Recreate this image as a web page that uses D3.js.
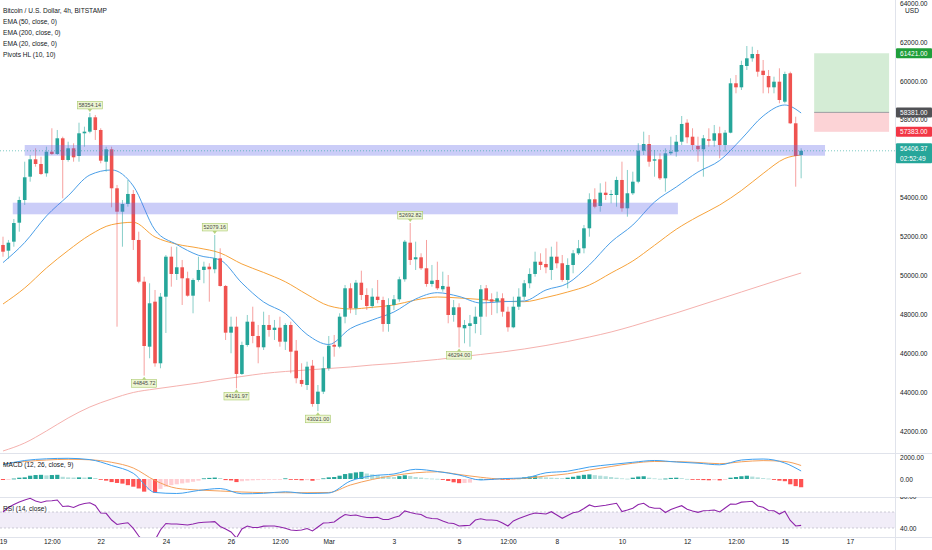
<!DOCTYPE html>
<html><head><meta charset="utf-8">
<script src="https://cdn.jsdelivr.net/npm/d3@7/dist/d3.min.js"></script>
<style>
html,body{margin:0;padding:0;background:#fff;overflow:hidden}
svg{display:block;font-family:"Liberation Sans",Arial,sans-serif}
</style></head><body>
<svg id="c" width="932" height="550"></svg>
<script>
// ---------- DATA ----------
const opens = [51564,51271,51734,52710,53877,55075,55969,55728,55249,56360,56242,57049,55934,56535,56139,57306,57390,58128,57476,55846,
56483,54479,53275,53671,54186,51821,49677,46335,48649,45481,48906,50962,50073,50417,49851,48957,49765,50279,50448,50314,
50879,49456,47055,47363,44932,46423,47620,46885,46304,47451,47194,47312,46592,47451,46129,44624,44365,45358,43390,44022,
45225,46430,46335,47877,49338,48309,49625,48993,48427,48906,48736,47502,48479,48772,49800,51682,50828,50931,50366,49559,
49765,49286,49420,47965,48360,47281,47399,47502,47877,49338,48772,48649,48823,48134,47332,48391,48906,49595,50073,50705,
50587,50279,50962,50623,49765,50536,51136,51394,52422,53913,53568,54253,54134,54134,54906,53450,54222,54818,56412,56756,
55898,55969,54993,56278,56360,56874,57851,57131,56653,56483,56998,56926,57306,56704,57337,59877,59671,60766,61162,61383,
60524,60252,59671,59959,58931,60391,57820,56191];
const highs = [51990,51821,52900,54047,55846,56191,56535,56103,56617,57564,57476,57131,56874,56792,57851,57646,58354.14,58247,57564,56617,
56617,54649,53877,54906,54392,52247,49934,49595,49250,49096,51049,51476,51476,50793,50191,49851,50962,50705,50623,52079.16,
51394,49507,47877,47877,46592,47965,48391,47451,48134,47965,47708,47877,47538,47620,46680,45481,45564,45652,44365,45821,
46885,46937,48052,49507,49595,49765,50243,49338,49338,49765,48906,48823,48993,49934,51821,52692.82,51734,51136,51821,50536,
50705,50191,50021,48736,48566,47708,47965,48391,49507,49507,49080,49163,49080,48391,48906,49338,49765,50366,51219,51136,
51394,51476,51734,51049,50879,51307,51821,52592,54222,54479,54736,54818,54392,55075,55846,55420,55332,56792,57390,57219,
56448,56278,56535,57131,57219,58195,58026,57564,57131,57219,57564,57733,57646,57476,60134,60303,61038,61794,61758,61589,
61075,60561,60216,60648,60473,60473,58159,56535];
const lows = [50962,50859,51476,52247,53620,54818,55589,55162,55075,56191,56191,53964,55846,55846,55846,56617,57306,56962,55764,55332,
53501,47363,51476,53532,51307,49595,44845.72,45739,45307,45225,47040,49420,49765,48479,48906,48052,49677,49595,48649,50109,
49420,46680,45996,44191.97,44880,46335,46510,45481,46166,46849,46680,46335,46166,44968,44453,44279,44109,43251,43021,43900,
45101,45821,46253,47538,48052,47965,48736,48222,48309,48566,47106,47106,48222,48649,49677,50536,50279,50279,49420,49420,
49250,49163,47538,47620,46294,46510,46335,47024,46937,47877,47965,48052,47877,47106,47281,48222,48736,49338,49934,50279,
50109,49765,50366,49677,49338,50109,51049,51136,51990,53450,53275,53877,53707,53532,53275,53018,54134,54736,56191,55589,
55075,54906,54304,56191,56103,56704,56792,56448,55846,55075,56617,56617,56021,56360,57306,59362,59532,60561,60987,60216,
59362,59362,59362,58848,58848,57785,54561,54993];
const closes = [51219,51682,52693,53877,55044,55969,55728,55213,56360,56242,57049,55934,56535,56072,57306,57390,58128,57476,55898,56483,
54479,53275,53671,54186,51821,49677,46370,48566,45481,48906,50962,50073,50417,49851,48957,49765,50279,50448,50314,50879,
49456,47055,47363,44932,46423,47620,46885,46304,47451,47194,47312,46592,47451,46078,44712,44418,45307,43390,44022,45225,
46387,46335,47877,49338,48309,49625,48993,48427,48906,48736,47502,48479,48772,49800,51734,50793,50931,50366,49559,49729,
49338,49456,47965,48360,47332,47451,47538,47877,49286,48736,48649,48823,48134,47332,48391,48906,49595,50073,50705,50536,
50417,50962,50623,49765,50536,51136,51394,52422,53913,53532,54253,54134,54186,54906,53450,54222,54818,56412,56756,55846,
55969,54993,56278,56360,56874,57785,57100,56704,56483,57049,56926,57306,56704,57337,59877,59671,60817,61162,61383,60473,
60303,59671,59959,59018,60355,57820,56139,56406.37];

// EMA / MACD lines read at every 4th candle (+ last)
const lineIdx = [0,4,8,12,16,20,24,28,32,36,40,44,48,52,56,60,64,68,72,76,80,84,88,92,96,100,104,108,112,116,120,124,128,132,136,140,144,147];
const ema20 = [50659,51692,53054,54093,55162,55420,54597,52335,51589,51034,50793,49610,48633,48042,46962,46448,47271,47708,48119,48787,49111,48916,48582,48649,48685,49250,49589,50536,51718,52592,53774,54545,55316,55908,57013,58195,58761,58350];
const ema50 = [48530,49353,50381,51281,52078,52607,52730,51975,51605,51409,51152,50587,50150,49672,49019,48438,48273,48360,48479,48736,48890,48839,48762,48669,48649,48865,49147,49507,50124,50741,51548,52371,53029,53620,54365,55239,56010,56191];
const ema200 = [40973,41384,42001,42670,43235,43646,43981,44161,44315,44469,44649,44803,44957,45060,45138,45214,45292,45394,45471,45574,45677,45806,45934,46063,46217,46397,46602,46834,47091,47399,47734,48068,48428,48787,49147,49507,49867,50124];
const macdLine = [1300,1682,1836,1882,1763,1227,518,-1227,-1318,-1045,-864,-1345,-1300,-1164,-1318,-1273,-182,291,455,882,682,364,-91,36,91,564,709,1091,1318,1518,1682,1545,1436,1291,1727,1818,1454,727];
const signalLine = [1373,1591,1727,1791,1745,1518,1000,-136,-845,-1000,-1091,-1182,-1236,-1245,-1245,-1227,-545,-45,318,564,655,409,155,0,55,273,473,818,1136,1436,1591,1582,1500,1391,1564,1673,1591,1227];
const macdHist = [-90,-60,40,120,150,300,360,380,330,360,380,200,150,130,150,130,160,90,-60,-150,
-280,-360,-420,-560,-700,-860,-1150,-1000,-1250,-900,-700,-560,-480,-400,-330,-250,-150,60,100,130,
90,-100,-130,-280,-200,-150,-120,-100,-80,-60,-50,-40,60,-30,-80,-120,-100,-160,-60,60,
150,180,300,450,520,600,650,500,420,360,250,200,180,260,340,280,180,130,60,40,
20,-80,-180,-300,-380,-360,-330,-100,10,-20,-30,-20,-40,-60,-20,60,150,220,260,200,
150,120,100,70,120,200,300,380,420,350,300,250,180,120,60,30,120,220,250,120,
60,20,40,100,120,80,10,-10,-60,-100,-120,-100,-130,-80,120,180,250,300,220,150,
80,40,-80,-150,-200,-480,-650,-750];
const rsi = [60,65.6,69.4,72.5,75,77.1,73.8,71.9,73.8,74,75,66.9,67.5,65.6,68.8,70.6,71.6,68.1,58.8,58.4,
50,44.4,45.6,46.6,39.6,30,22.5,27.5,25,37.5,45.6,45,45,44.4,43.8,45,46.5,47.1,47.5,47.9,
41.9,38.8,35,27.5,38.8,42.5,40.6,40.6,42.3,42.5,42.5,41.3,39.6,37.5,36.9,37.5,39.3,36.3,41.3,46.3,
46.6,47.5,52.5,56.9,55.6,56.3,54.4,53.1,53,53.4,50.6,50.6,53.1,55,61.3,59.4,57.9,56.9,53.1,51.9,
51.5,48.8,46.3,45.6,42.5,43,43.5,50,51.5,50,50,49.4,46.3,42.5,48.8,51.9,54.4,56.9,58.8,58.1,
57.5,60.4,56.3,52.1,55.6,59.1,60.3,64.4,68.8,66.6,67.5,68.4,69.6,70.9,60.6,62.5,64.6,69.4,70.9,66.3,
64.6,64.6,59.4,63.1,65.6,67.9,63.5,61.3,59.6,61.5,61.9,62.5,60,65,69.8,69.6,72.3,72.9,73.4,67.5,
65.9,61.9,61.6,57.5,60.9,49.4,42.5,43.3];

// pivots
const pivotIdx = [16,26,39,43,58,75,84];
const pivotVal = [58354.14,44845.72,52079.16,44191.97,43021.00,52692.82,46294.00];
const pivotType = ['H','L','H','L','L','H','L'];

// zones (rectangles drawn by user)
const zoneStart = [4,1.8];
const zoneEnd = [151.4,124.3];
const zoneTop = [56704,53738];
const zoneBottom = [56154,53142];

// long position tool
const posStart = 149.4, posEnd = 163.2;
const posTarget = 61421.00, posEntry = 58381.00, posStop = 57383.00;
const lastPrice = 56406.37;
const countdown = "02:52:49";

// axes
const priceTicks = [42000,44000,46000,48000,50000,52000,54000,56000,58000,60000,62000,64000];
const macdTicks = [0,2000];
const rsiTicks = [40,80];
const timeTickIdx = [0,9,18,30,42,51,60,72,84,93,102,114,126,135,144,156];
const timeTickLabels = ["19","12:00","22","24","26","12:00","Mar","3","5","12:00","8","10","12","12:00","15","17"];
const legendLines = ["Bitcoin / U.S. Dollar, 4h, BITSTAMP","EMA (50, close, 0)","EMA (200, close, 0)","EMA (20, close, 0)","Pivots HL (10, 10)"];

// ---------- LAYOUT ----------
const PR = 895, MAIN_B = 453, MACD_B = 497, RSI_B = 537;
const svg = d3.select('#c');
const x = d3.scaleLinear().domain([0,156]).range([3,850]);
const y = d3.scaleLinear().domain([42000,62000]).range([431,42]);
const yM = d3.scaleLinear().domain([0,2000]).range([479,457]);
const yR = d3.scaleLinear().domain([40,80]).range([528,496]);
const UP = '#26a69a', DN = '#ef5350';

const defs = svg.append('defs');
function clip(id, x0, y0, w, h){ defs.append('clipPath').attr('id',id).append('rect').attr('x',x0).attr('y',y0).attr('width',w).attr('height',h); }
clip('cMain',0,0,PR,MAIN_B);
clip('cMacd',0,MAIN_B,PR,MACD_B-MAIN_B);
clip('cRsi',0,MACD_B,PR,RSI_B-MACD_B);
clip('cRsiAx',PR,MACD_B,932-PR,RSI_B-MACD_B);

// separators
const sep = svg.append('g').attr('stroke','#e0e3eb').attr('stroke-width',1);
[MAIN_B,MACD_B,RSI_B].forEach(v=>sep.append('line').attr('x1',0).attr('x2',932).attr('y1',v+0.5).attr('y2',v+0.5));
sep.append('line').attr('x1',PR+0.5).attr('x2',PR+0.5).attr('y1',0).attr('y2',550);

// ---------- MAIN PANE ----------
const main = svg.append('g').attr('clip-path','url(#cMain)');
const idx = d3.range(opens.length);

const lineGen = (arr, sc) => d3.line().x((d,i)=>x(lineIdx[i])).y(d=>sc(d)).curve(d3.curveMonotoneX)(arr);
main.append('path').attr('d',lineGen(ema200,y)).attr('fill','none').attr('stroke','#f5b1ae').attr('stroke-width',1);
main.append('path').attr('d',lineGen(ema50,y)).attr('fill','none').attr('stroke','#f7a33b').attr('stroke-width',1);
main.append('path').attr('d',lineGen(ema20,y)).attr('fill','none').attr('stroke','#4b9fe8').attr('stroke-width',1);

// candles
const cg = main.append('g');
idx.forEach(i=>{
  const up = closes[i] >= opens[i];
  const col = up ? UP : DN;
  const cx = x(i);
  cg.append('line').attr('x1',cx).attr('x2',cx).attr('y1',y(highs[i])).attr('y2',y(lows[i]))
    .attr('stroke',col).attr('stroke-opacity',0.55).attr('stroke-width',1);
  const top = y(Math.max(opens[i],closes[i])), bot = y(Math.min(opens[i],closes[i]));
  cg.append('rect').attr('x',cx-1.8).attr('width',3.6).attr('y',top).attr('height',Math.max(0.8,bot-top)).attr('fill',col);
});

// zones
zoneStart.forEach((s,k)=>{
  main.append('rect').attr('x',x(s)).attr('width',x(zoneEnd[k])-x(s))
    .attr('y',y(zoneTop[k])).attr('height',y(zoneBottom[k])-y(zoneTop[k]))
    .attr('fill','rgba(103,108,235,0.34)');
});

// last price line
main.append('line').attr('x1',0).attr('x2',PR).attr('y1',y(lastPrice)).attr('y2',y(lastPrice))
  .attr('stroke','#26a69a').attr('stroke-opacity',0.6).attr('stroke-dasharray','1,2').attr('stroke-width',1);

// position tool
main.append('rect').attr('x',x(posStart)).attr('width',x(posEnd)-x(posStart)).attr('y',y(posTarget)).attr('height',y(posEntry)-y(posTarget)).attr('fill','rgba(76,175,80,0.24)');
main.append('rect').attr('x',x(posStart)).attr('width',x(posEnd)-x(posStart)).attr('y',y(posEntry)).attr('height',y(posStop)-y(posEntry)).attr('fill','rgba(242,54,69,0.22)');
main.append('line').attr('x1',x(posStart)).attr('x2',x(posEnd)).attr('y1',y(posEntry)).attr('y2',y(posEntry)).attr('stroke','#8a8d96').attr('stroke-width',0.8);

// pivot labels
pivotIdx.forEach((pi,k)=>{
  const cx = x(pi), py = y(pivotVal[k]);
  const w = 25, h = 7.6;
  const g = main.append('g');
  let by, tri;
  if (pivotType[k]==='H'){ by = py-4-h; tri = [[cx-2.2,py-4],[cx+2.2,py-4],[cx,py-1]]; }
  else { by = py+4; tri = [[cx-2.2,py+4],[cx+2.2,py+4],[cx,py+1]]; }
  g.append('path').attr('d','M'+tri.map(p=>p.join(',')).join('L')+'Z').attr('fill','#b8d47f');
  g.append('rect').attr('x',cx-w/2).attr('y',by).attr('width',w).attr('height',h)
    .attr('fill','#edf6d3').attr('stroke','#a9c96b').attr('stroke-width',0.6);
  g.append('text').attr('x',cx).attr('y',by+h/2).attr('dy','0.35em').attr('text-anchor','middle')
    .attr('font-size',5.4).attr('fill','#4a4a4a').text(d3.format('.2f')(pivotVal[k]));
});

// legend
const lg = svg.append('g');
legendLines.forEach((t,k)=>{
  lg.append('text').attr('x',3).attr('y',11+k*11).attr('dy','0.35em').attr('font-size',6.6).attr('fill','#131722').text(t);
});

// ---------- MACD PANE ----------
const mg = svg.append('g').attr('clip-path','url(#cMacd)');
idx.forEach(i=>{
  const v = macdHist[i], p = i>0 ? macdHist[i-1] : v;
  const col = v>=0 ? (v>=p ? '#26a69a' : '#b2dfdb') : (v<=p ? '#ff5252' : '#ffcdd2');
  const y0 = yM(0), y1 = yM(v);
  mg.append('rect').attr('x',x(i)-2.1).attr('width',4.2).attr('y',Math.min(y0,y1)).attr('height',Math.max(0.8,Math.abs(y1-y0))).attr('fill',col);
});
mg.append('path').attr('d',lineGen(signalLine,yM)).attr('fill','none').attr('stroke','#f5a05a').attr('stroke-width',1);
mg.append('path').attr('d',lineGen(macdLine,yM)).attr('fill','none').attr('stroke','#3ea0f0').attr('stroke-width',1);
svg.append('text').attr('x',3).attr('y',465).attr('dy','0.35em').attr('font-size',6.6).attr('fill','#131722').text('MACD (12, 26, close, 9)');

// ---------- RSI PANE ----------
const rg = svg.append('g').attr('clip-path','url(#cRsi)');
rg.append('rect').attr('x',0).attr('width',PR).attr('y',yR(60)).attr('height',yR(40)-yR(60)).attr('fill','rgba(126,87,194,0.11)');
[60,40].forEach(v=>rg.append('line').attr('x1',0).attr('x2',PR).attr('y1',yR(v)).attr('y2',yR(v)).attr('stroke','#b8b8c4').attr('stroke-width',0.7).attr('stroke-dasharray','2,2'));
rg.append('path').attr('d',d3.line().x((d,i)=>x(i)).y(d=>yR(d))(rsi)).attr('fill','none').attr('stroke','#8e24aa').attr('stroke-width',1.1);
svg.append('text').attr('x',3).attr('y',509).attr('dy','0.35em').attr('font-size',6.6).attr('fill','#131722').text('RSI (14, close)');

// ---------- AXES ----------
const fmt = d3.format('.2f');
function styleAxis(g){ g.select('.domain').remove(); g.selectAll('text').attr('font-size',6.6).attr('fill','#131722').attr('font-family','"Liberation Sans",Arial,sans-serif'); }
svg.append('g').attr('transform',`translate(${PR+1},0)`).call(d3.axisRight(y).tickValues(priceTicks).tickSize(0).tickPadding(4).tickFormat(fmt)).call(styleAxis);
svg.append('g').attr('transform',`translate(${PR+1},0)`).call(d3.axisRight(yM).tickValues(macdTicks).tickSize(0).tickPadding(4).tickFormat(fmt)).call(styleAxis);
svg.append('g').attr('clip-path','url(#cRsiAx)').append('g').attr('transform',`translate(${PR+1},0)`).call(d3.axisRight(yR).tickValues(rsiTicks).tickSize(0).tickPadding(4).tickFormat(fmt)).call(styleAxis);
svg.append('g').attr('transform',`translate(0,${RSI_B})`).call(d3.axisBottom(x).tickValues(timeTickIdx).tickSize(0).tickPadding(2).tickFormat((d,i)=>timeTickLabels[i])).call(styleAxis);
svg.append('text').attr('x',912).attr('y',10.5).attr('dy','0.35em').attr('text-anchor','middle').attr('font-size',6.6).attr('fill','#131722').text('USD');

// price tags
const tagVals = [posTarget,posEntry,posStop];
const tagCols = ['#1f9e3a','#505155','#f23645'];
tagVals.forEach((v,k)=>{
  const ty = y(v);
  svg.append('rect').attr('x',PR+1).attr('y',ty-5).attr('width',932-PR-1).attr('height',10).attr('rx',1).attr('fill',tagCols[k]);
  svg.append('text').attr('x',PR+5).attr('y',ty).attr('dy','0.35em').attr('font-size',6.6).attr('fill','#fff').text(fmt(v));
});
const ly = y(lastPrice);
svg.append('rect').attr('x',PR+1).attr('y',ly-7.5).attr('width',932-PR-1).attr('height',20).attr('rx',1).attr('fill','#26a69a');
svg.append('text').attr('x',PR+5).attr('y',ly-2).attr('dy','0.35em').attr('font-size',6.6).attr('fill','#fff').text(fmt(lastPrice));
svg.append('text').attr('x',PR+5).attr('y',ly+7.5).attr('dy','0.35em').attr('font-size',6.6).attr('fill','#fff').text(countdown);
</script>
</body></html>
